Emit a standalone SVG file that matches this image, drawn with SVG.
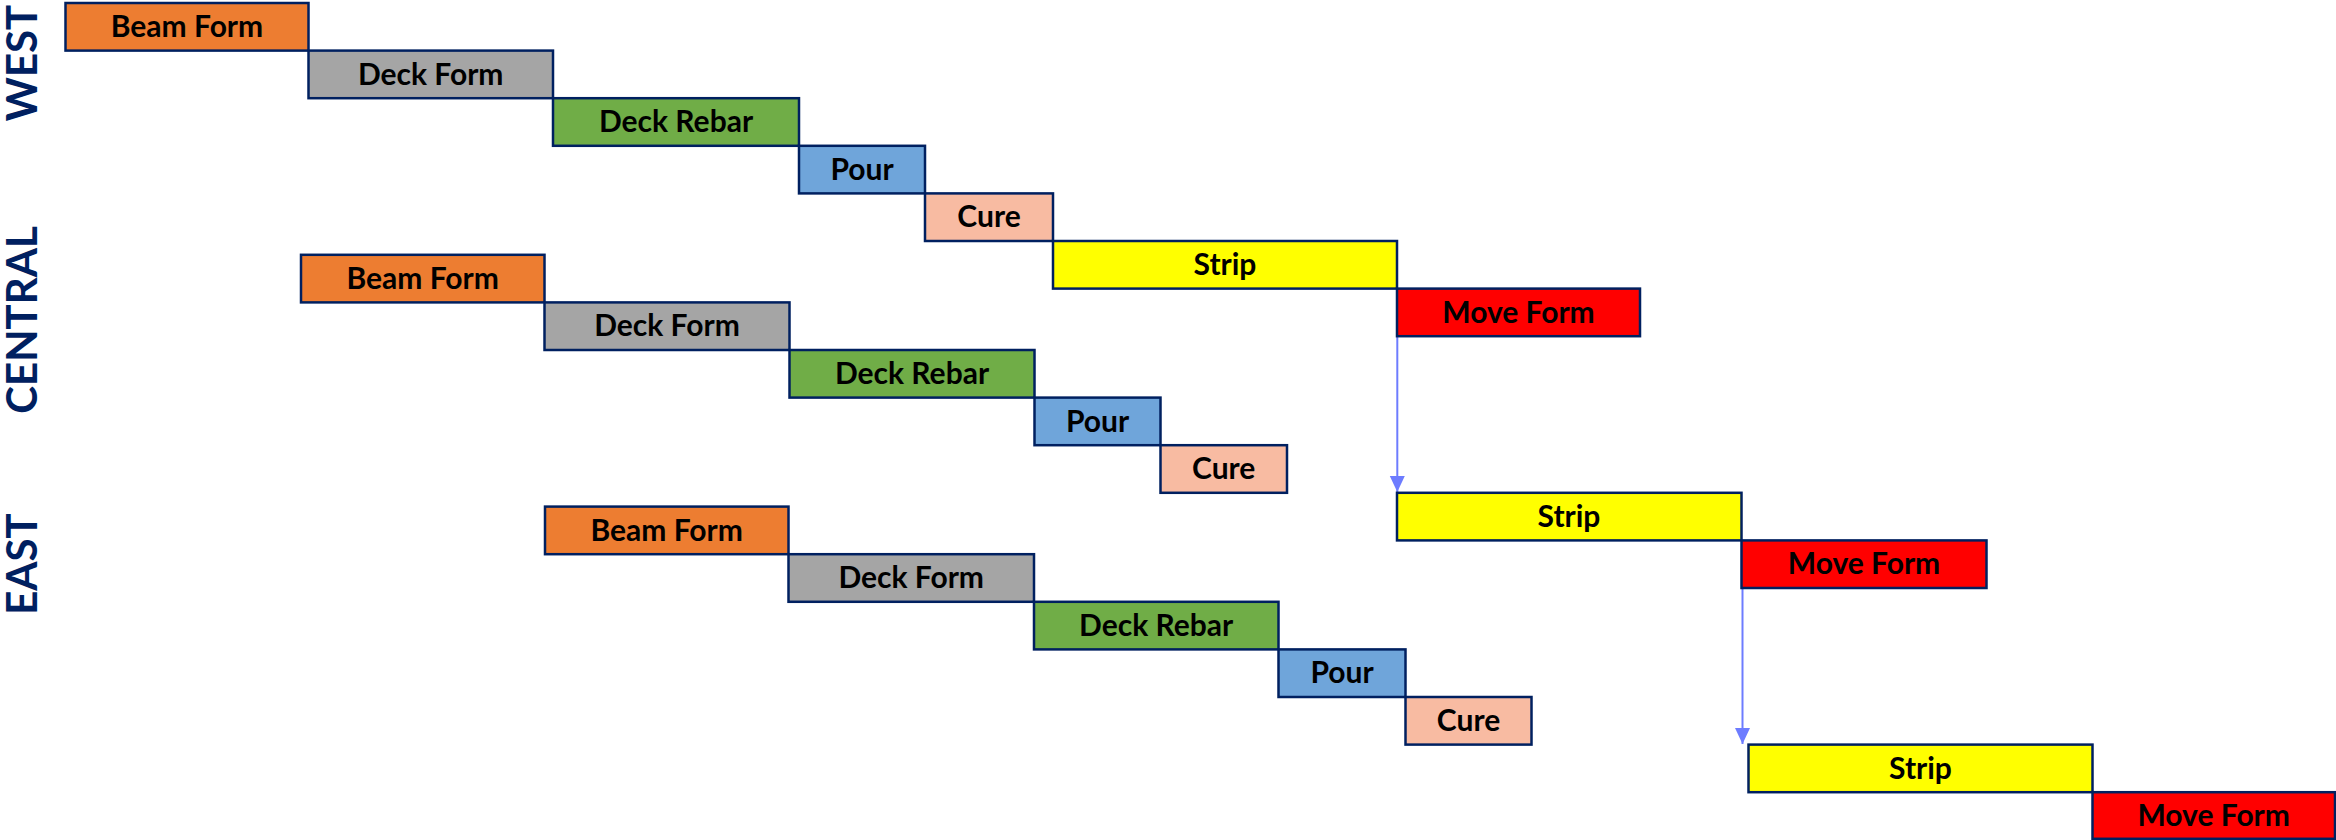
<svg xmlns="http://www.w3.org/2000/svg" width="2336" height="840" viewBox="0 0 2336 840">
  <style>
    .bar { stroke: #002060; stroke-width: 2.5; }
    .lbl { font-family: Lato, "Liberation Sans", sans-serif; font-weight: 700; font-size: 30px; fill: #000000; text-anchor: middle; }
    .zone { font-family: Lato, "Liberation Sans", sans-serif; font-weight: 700; font-size: 42px; fill: #002060; text-anchor: middle; dominant-baseline: central; }
    .beam { fill: #ED7D31; }
    .deck { fill: #A5A5A5; }
    .rebar { fill: #70AD47; }
    .pour { fill: #6FA5DA; }
    .cure { fill: #F8BBA2; }
    .strip { fill: #FFFF00; }
    .move { fill: #FF0000; }
    .link { stroke: #6D7CFF; stroke-width: 2; fill: none; }
  </style>
  <defs>
    <marker id="arrow" viewBox="0 0 16 16" refX="16" refY="8" markerWidth="16" markerHeight="16" markerUnits="userSpaceOnUse" orient="auto">
      <path d="M0,0.5 L16,8 L0,15.5 z" fill="#6D7CFF"/>
    </marker>
  </defs>
  <rect width="2336" height="840" fill="#FFFFFF"/>

  <!-- zone labels -->
  <g id="zone-labels">
    <text class="zone" transform="translate(21,63) rotate(-90)">WEST</text>
    <text class="zone" transform="translate(21,320) rotate(-90)">CENTRAL</text>
    <text class="zone" transform="translate(21,564) rotate(-90)">EAST</text>
  </g>

  <!-- connectors -->
  <g id="connectors">
    <path class="link" d="M1397.3,336 V492" marker-end="url(#arrow)"/>
    <path class="link" d="M1742.5,588 V744" marker-end="url(#arrow)"/>
  </g>

  <!-- WEST sequence -->
  <g id="west-beam-form"><rect class="bar beam" x="65.5" y="3" width="243" height="47.6"/><text class="lbl" x="187" y="37">Beam Form</text></g>
  <g id="west-deck-form"><rect class="bar deck" x="308.5" y="50.6" width="244.5" height="47.6"/><text class="lbl" x="430.7" y="84.6">Deck Form</text></g>
  <g id="west-deck-rebar"><rect class="bar rebar" x="553" y="98.2" width="246" height="47.6"/><text class="lbl" x="676" y="132.2">Deck Rebar</text></g>
  <g id="west-pour"><rect class="bar pour" x="799" y="145.8" width="126" height="47.6"/><text class="lbl" x="862" y="179.8">Pour</text></g>
  <g id="west-cure"><rect class="bar cure" x="925" y="193.4" width="128" height="47.6"/><text class="lbl" x="989" y="227.4">Cure</text></g>
  <g id="west-strip"><rect class="bar strip" x="1053" y="241" width="344" height="47.6"/><text class="lbl" x="1225" y="275">Strip</text></g>
  <g id="west-move-form"><rect class="bar move" x="1397" y="288.6" width="243" height="47.6"/><text class="lbl" x="1518.5" y="322.6">Move Form</text></g>

  <!-- CENTRAL sequence -->
  <g id="central-beam-form"><rect class="bar beam" x="301" y="254.8" width="243.5" height="47.6"/><text class="lbl" x="422.7" y="288.8">Beam Form</text></g>
  <g id="central-deck-form"><rect class="bar deck" x="544.5" y="302.4" width="245" height="47.6"/><text class="lbl" x="667" y="336.4">Deck Form</text></g>
  <g id="central-deck-rebar"><rect class="bar rebar" x="789.5" y="350" width="245" height="47.6"/><text class="lbl" x="912" y="384">Deck Rebar</text></g>
  <g id="central-pour"><rect class="bar pour" x="1034.5" y="397.6" width="126" height="47.6"/><text class="lbl" x="1097.5" y="431.6">Pour</text></g>
  <g id="central-cure"><rect class="bar cure" x="1160.5" y="445.2" width="126.5" height="47.6"/><text class="lbl" x="1223.7" y="479.2">Cure</text></g>
  <g id="central-strip"><rect class="bar strip" x="1397" y="492.8" width="344.5" height="47.6"/><text class="lbl" x="1569" y="526.8">Strip</text></g>
  <g id="central-move-form"><rect class="bar move" x="1741.5" y="540.4" width="245" height="47.6"/><text class="lbl" x="1864" y="574.4">Move Form</text></g>

  <!-- EAST sequence -->
  <g id="east-beam-form"><rect class="bar beam" x="545" y="506.6" width="243.5" height="47.6"/><text class="lbl" x="666.7" y="540.6">Beam Form</text></g>
  <g id="east-deck-form"><rect class="bar deck" x="788.5" y="554.2" width="245.5" height="47.6"/><text class="lbl" x="911.2" y="588.2">Deck Form</text></g>
  <g id="east-deck-rebar"><rect class="bar rebar" x="1034" y="601.8" width="244.5" height="47.6"/><text class="lbl" x="1156.2" y="635.8">Deck Rebar</text></g>
  <g id="east-pour"><rect class="bar pour" x="1278.5" y="649.4" width="127" height="47.6"/><text class="lbl" x="1342" y="683.4">Pour</text></g>
  <g id="east-cure"><rect class="bar cure" x="1405.5" y="697" width="126" height="47.6"/><text class="lbl" x="1468.5" y="731">Cure</text></g>
  <g id="east-strip"><rect class="bar strip" x="1748.5" y="744.6" width="344" height="47.6"/><text class="lbl" x="1920.5" y="778.6">Strip</text></g>
  <g id="east-move-form"><rect class="bar move" x="2092.5" y="792.2" width="242.5" height="46.6"/><text class="lbl" x="2213.7" y="826">Move Form</text></g>
</svg>
